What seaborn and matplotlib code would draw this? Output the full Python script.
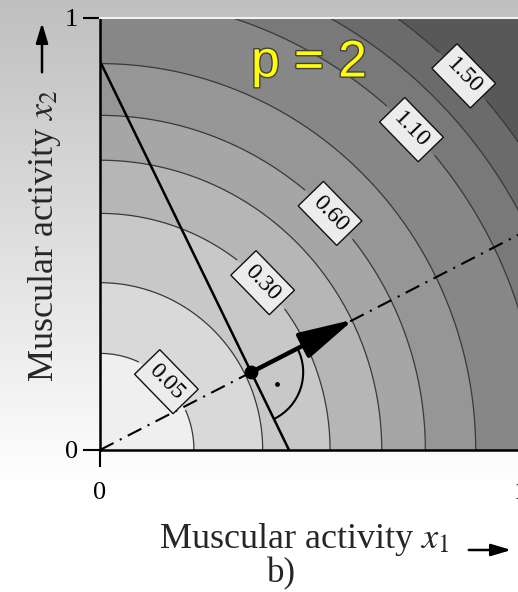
import numpy as np
import matplotlib
matplotlib.use("Agg")
import matplotlib.pyplot as plt
import matplotlib.patheffects as pe
from matplotlib.patches import Arc, FancyArrowPatch
import seaborn as sns

# cost f(x1, x2) = x1^2 + x2^2  (p = 2), iso-cost levels
levels = [0.05, 0.15, 0.30, 0.45, 0.60, 0.80, 1.10, 1.30, 1.50]
label_levels = [0.05, 0.30, 0.60, 1.10, 1.50]
band_colors = ["#efefef", "#d9d9d9", "#c8c8c8", "#b6b6b6", "#a6a6a6",
               "#969696", "#878787", "#797979", "#6b6b6b", "#585858"]

# constraint line, gradient ray and optimum
line_x = [0.0, 0.45]
line_y = [0.9, 0.0]
ray_x = [0.0, 1.0]
ray_y = [0.0, 0.5]
opt_x, opt_y = 0.36, 0.18
arrow_end = (0.61, 0.305)

sns.set_theme(style="ticks")
plt.rcParams["font.family"] = ["Liberation Serif", "DejaVu Serif"]
plt.rcParams["mathtext.fontset"] = "stix"
plt.rcParams["lines.scale_dashes"] = False

W, H = 518, 592
fig = plt.figure(figsize=(W / 100, H / 100), dpi=100)

# slide background gradient
bg = fig.add_axes([0, 0, 1, 1], zorder=-10)
t = np.linspace(0, 1, 400)
shade = np.clip(0.75 + 0.25 * t / 0.82, 0, 1)
bg.imshow(np.dstack([shade, shade, shade]).reshape(-1, 1, 3),
          aspect="auto", extent=[0, 1, 0, 1])
bg.axis("off")

ax = fig.add_axes([100 / W, 1 - 450 / H, 420 / W, 432 / H])
g = np.linspace(0, 1.05, 500)
X1, X2 = np.meshgrid(g, g)
F = X1 ** 2 + X2 ** 2
ax.contourf(X1, X2, F, levels=[0] + levels + [F.max() + 0.1], colors=band_colors)
plain_levels = [l for l in levels if l not in label_levels]
ax.contour(X1, X2, F, levels=plain_levels, colors="#3a3a3a", linewidths=0.9)
cs = ax.contour(X1, X2, F, levels=label_levels, colors="#3a3a3a", linewidths=0.9)
pos = [(np.sqrt(l / 2), np.sqrt(l / 2)) for l in label_levels]
texts = ax.clabel(cs, manual=pos, inline=True, fmt="%.2f",
                  fontsize=17, inline_spacing=12, colors="black")
for tx in texts:
    tx.set_bbox(dict(boxstyle="square,pad=0.3", fc="#ececec", ec="#111111", lw=1.0))

sns.lineplot(x=line_x, y=line_y, color="black", lw=1.8, ax=ax,
             estimator=None, sort=False)
ax.plot(ray_x, ray_y, color="black", lw=1.5, linestyle=(0, (11, 5, 1.5, 5)))

# gradient arrow and right-angle marker
ax.add_patch(FancyArrowPatch((opt_x, opt_y), arrow_end,
                             arrowstyle="-|>,head_length=1.7,head_width=0.42",
                             mutation_scale=20, lw=3.2, color="black", zorder=5))
ax.add_patch(Arc((opt_x, opt_y), 2 * 52 / 420, 2 * 52 / 432,
                 theta1=-63.43, theta2=26.57, lw=1.5, color="black", zorder=5))
ang = np.deg2rad(-22)
ax.scatter([opt_x + 0.065 * np.cos(ang)], [opt_y + 0.07 * np.sin(ang)],
           s=6, color="black", zorder=6)
ax.scatter([opt_x], [opt_y], s=80, color="black", zorder=6)

ax.set_xlim(0, 1)
ax.set_ylim(0, 1)
ax.set_xticks([0, 1])
ax.set_yticks([0, 1])
ax.set_xticklabels(["0", "1"])
ax.set_yticklabels(["0", "1"])
ax.tick_params(direction="out", length=12, width=1.5, labelsize=19, colors="black")
ax.tick_params(axis="x", pad=11)
ax.tick_params(axis="y", pad=4)
for s in ["left", "bottom"]:
    ax.spines[s].set_color("black")
    ax.spines[s].set_linewidth(1.8)
ax.spines["top"].set_color("#f2f2f2")
ax.spines["top"].set_linewidth(1.5)
ax.spines["right"].set_visible(False)

# axis titles
fig.text(45 / W, 1 - 236 / H, r"Muscular activity $x_2$", rotation=90,
         ha="center", va="center", fontsize=26)
fig.text(304 / W, 1 - 540 / H, r"Muscular activity $x_1$",
         ha="center", va="center", fontsize=26)
fig.text(281 / W, 1 - 574 / H, "b)", ha="center", va="center", fontsize=25)
arrow_kw = dict(arrowstyle="-|>,head_length=0.6,head_width=0.18",
                lw=1.8, color="black", mutation_scale=20)
fig.add_artist(FancyArrowPatch((42, H - 75), (42, H - 20),
                               transform=None, **arrow_kw))
fig.add_artist(FancyArrowPatch((466, H - 550), (514, H - 550),
                               transform=None, **arrow_kw))

fig.text(309 / W, 1 - 63 / H, "p = 2", family="Liberation Sans", fontsize=37,
         color="#ffff00", ha="center", va="center",
         path_effects=[pe.withStroke(linewidth=2, foreground="#404040")])

fig.savefig("out.png", dpi=100)
